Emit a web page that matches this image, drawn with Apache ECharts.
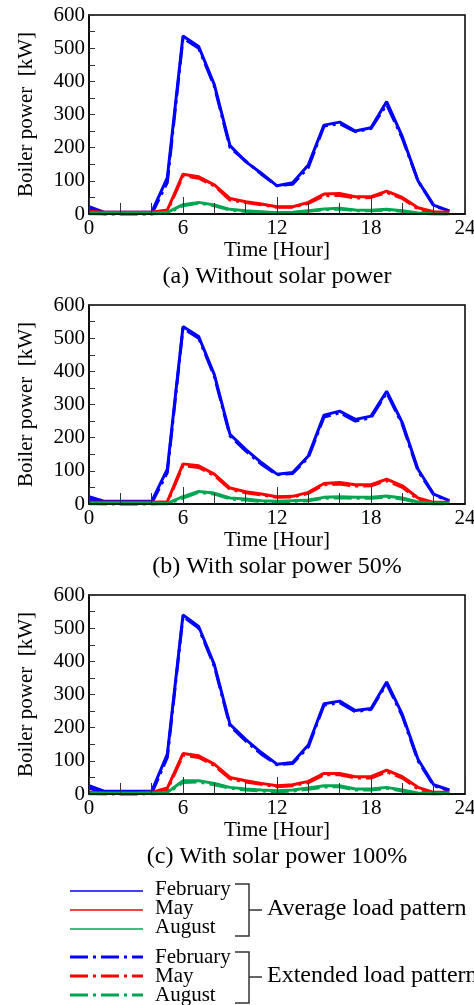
<!DOCTYPE html>
<html>
<head>
<meta charset="utf-8">
<script src="https://cdn.jsdelivr.net/npm/echarts@6/dist/echarts.min.js"></script>
<style>
html,body{margin:0;padding:0;background:#fff;}
#chart{width:474px;height:1005px;}
</style>
</head>
<body>
<div id="chart"></div>
<script>
// ---- data ----
const hours = [0,1,2,3,4,5,6,7,8,9,10,11,12,13,14,15,16,17,18,19,20,21,22,23];
const xTickLabels = ['0','6','12','18','24'];
const panelTitles = ['(a) Without solar power','(b) With solar power 50%','(c) With solar power 100%'];
const months = ['February','May','August'];
const groupNames = ['Average load pattern','Extended load pattern'];

// (a) Without solar power
const febAvgA = [22,5,5,5,5,110,537,505,390,206,158,123,85,94,148,268,277,250,260,339,233,100,27,9];
const mayAvgA = [8,5,5,5,5,12,120,112,88,47,37,30,22,22,35,60,62,52,52,69,50,19,7,6];
const augAvgA = [3,3,3,3,3,5,28,35,27,14,10,7,4,5,10,15,17,12,11,14,10,3,1,0];
const febExtA = [14,0,0,0,0,95,530,500,385,200,160,120,85,90,140,265,272,248,258,330,228,100,25,8];
const mayExtA = [2,0,0,0,0,8,115,108,85,42,35,28,20,20,32,55,56,48,50,65,47,15,2,0];
const augExtA = [0,0,0,0,0,2,25,33,25,12,8,5,3,4,8,13,15,10,10,12,8,2,0,0];
// (b) With solar power 50%
const febAvgB = [22,8,8,8,8,105,535,505,390,210,165,125,90,95,145,268,280,255,265,340,245,105,30,10];
const mayAvgB = [5,5,5,5,5,7,121,115,90,48,37,30,22,23,35,62,65,58,58,75,55,18,5,5];
const augAvgB = [2,2,2,2,2,2,22,38,33,18,15,10,8,10,12,20,22,20,20,24,18,6,2,2];
const febExtB = [15,2,0,0,2,95,530,500,385,205,160,120,88,92,140,262,275,250,260,335,240,100,28,8];
const mayExtB = [2,0,0,0,0,3,116,110,86,44,34,27,20,21,32,58,60,54,55,70,50,14,2,2];
const augExtB = [0,0,0,0,0,0,18,35,30,15,12,8,6,8,10,17,19,17,17,20,15,4,0,0];
// (c) With solar power 100%
const febAvgC = [25,8,8,8,8,120,540,505,390,210,165,125,90,95,148,272,280,252,258,338,240,105,28,12];
const mayAvgC = [5,3,3,3,5,18,122,115,90,50,40,32,25,28,38,62,62,52,52,72,52,20,5,5];
const augAvgC = [2,2,2,2,2,5,40,40,32,20,15,12,10,12,18,25,25,15,15,20,12,3,2,2];
const febExtC = [18,2,0,0,2,110,535,500,385,205,160,120,88,92,142,268,275,248,255,332,235,100,25,10];
const mayExtC = [2,0,0,0,2,12,117,110,86,46,36,29,22,25,34,58,58,48,48,67,48,15,2,2];
const augExtC = [0,0,0,0,0,2,35,36,28,17,12,9,7,9,14,21,22,12,12,17,9,1,0,0];

const panels = [
  {avg:[febAvgA,mayAvgA,augAvgA], ext:[febExtA,mayExtA,augExtA]},
  {avg:[febAvgB,mayAvgB,augAvgB], ext:[febExtB,mayExtB,augExtB]},
  {avg:[febAvgC,mayAvgC,augAvgC], ext:[febExtC,mayExtC,augExtC]}
];

// ---- styles ----
const FONT = "'Liberation Serif','Times New Roman',serif";
const colors = ['#0000ff','#ff0000','#00a651'];
const dashDot = [18,5,3,5];
const gridTops = [15,305,595];
const gridH = 199;
const gridLeft = 89, gridW = 376;
const titleYs = [277,567,857];

const chart = echarts.init(document.getElementById('chart'), null, {renderer:'canvas'});

const grids = [], xAxes = [], yAxes = [], series = [], graphics = [];
gridTops.forEach((top,i)=>{
  grids.push({left:gridLeft, top:top, width:gridW, height:gridH, show:true,
    borderColor:'#000', borderWidth:1.5, backgroundColor:'transparent',
    containLabel:false, outerBoundsMode:'none'});
  xAxes.push({type:'value', gridIndex:i, min:0, max:24, interval:6, z:5,
    name:'Time [Hour]', nameLocation:'middle', nameGap:23,
    nameTextStyle:{fontFamily:FONT, fontSize:21, color:'#000'},
    axisLine:{lineStyle:{color:'#000', width:1.5}},
    axisTick:{inside:true, length:17, lineStyle:{color:'#333', width:1}},
    minorTick:{show:true, splitNumber:3, length:11, lineStyle:{color:'#333', width:1}},
    splitLine:{show:false},
    axisLabel:{fontFamily:FONT, fontSize:21, color:'#000', margin:4,
      formatter:(v)=> xTickLabels.indexOf(String(v))>=0 ? String(v) : ''}
  });
  yAxes.push({type:'value', gridIndex:i, min:0, max:600, interval:100,
    name:'Boiler power  [kW]', nameLocation:'middle', nameGap:52,
    nameTextStyle:{fontFamily:FONT, fontSize:21, color:'#000'},
    axisLine:{lineStyle:{color:'#000', width:1.5}},
    axisTick:{inside:true, length:6, lineStyle:{color:'#333', width:1}},
    minorTick:{show:true, splitNumber:2, length:6, lineStyle:{color:'#333', width:1}},
    splitLine:{show:false},
    axisLabel:{fontFamily:FONT, fontSize:21, color:'#000', margin:4}
  });
  const p = panels[i];
  [0,1,2].forEach(k=>{
    series.push({type:'line', name:months[k]+' ext', xAxisIndex:i, yAxisIndex:i,
      symbol:'none', silent:true, animation:false,
      data: hours.map((h,j)=>[h,p.ext[k][j]]),
      lineStyle:{color:colors[k], width:3, type:dashDot}, z:2});
    series.push({type:'line', name:months[k]+' avg', xAxisIndex:i, yAxisIndex:i,
      symbol:'none', silent:true, animation:false,
      data: hours.map((h,j)=>[h,p.avg[k][j]]),
      lineStyle:{color:colors[k], width:3, type:'solid'}, z:3});
  });
  graphics.push({type:'text', x:277, y:titleYs[i], style:{x:0, y:0, text:panelTitles[i],
    font:"24px "+FONT, fill:'#000', textAlign:'center', textVerticalAlign:'middle'}});
});

// legend (drawn as graphics)
const legendGroups = [
  {lineYs:[891,910,929], textYs:[889,908,927], top:884, bottom:936, mid:910, dash:false},
  {lineYs:[957,976,995], textYs:[957,976,995], top:952, bottom:1003, mid:977, dash:true}
];
legendGroups.forEach((g,gi)=>{
  [0,1,2].forEach(k=>{
    graphics.push({type:'line', shape:{x1:70,y1:g.lineYs[k],x2:143,y2:g.lineYs[k]},
      style:{stroke:colors[k], lineWidth:g.dash?3:1.5, lineDash:g.dash?dashDot:null}});
    graphics.push({type:'text', x:155, y:g.textYs[k], style:{x:0, y:0, text:months[k],
      font:"21px "+FONT, fill:'#000', textVerticalAlign:'middle'}});
  });
  graphics.push({type:'polyline', shape:{points:[[235,g.top],[249,g.top],[249,g.bottom],[235,g.bottom]]},
    style:{stroke:'#333', lineWidth:1.5, fill:null}});
  graphics.push({type:'line', shape:{x1:249,y1:g.mid,x2:262,y2:g.mid}, style:{stroke:'#333', lineWidth:1.5}});
  graphics.push({type:'text', x:267, y:g.mid-1, style:{x:0, y:0, text:groupNames[gi],
    font:"24px "+FONT, fill:'#000', textVerticalAlign:'middle'}});
});

chart.setOption({
  animation:false,
  backgroundColor:'#fff',
  grid:grids, xAxis:xAxes, yAxis:yAxes, series:series,
  graphic:graphics
});
</script>
</body>
</html>
